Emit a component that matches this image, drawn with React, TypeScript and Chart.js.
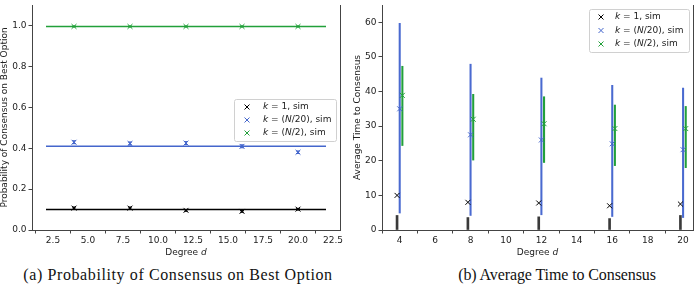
import React, { useEffect, useRef } from "react";
import { Chart, registerables } from "chart.js";

Chart.register(...registerables);

// ---------- shared ----------
const degrees = [4, 8, 12, 16, 20];
const seriesNames = ["k1", "kN20", "kN2"];
const seriesColors = ["#000000", "#4466cc", "#22a03a"];
const legendLabels: [string, boolean][][] = [
  [["k", true], [" = 1, sim", false]],
  [["k", true], [" = (", false], ["N", true], ["/20), sim", false]],
  [["k", true], [" = (", false], ["N", true], ["/2), sim", false]],
];

// ---------- panel (a): probability of consensus on best option ----------
const probRefSpan = [2, 22];
const probRefK1 = 0.1;
const probRefKN20 = 0.41;
const probRefKN2 = 0.995;
const probK1 = [0.107, 0.107, 0.096, 0.091, 0.102];
const probKN20 = [0.429, 0.423, 0.425, 0.409, 0.38];
const probKN2 = [0.995, 0.995, 0.995, 0.995, 0.995];
const probErrK1 = [0.005, 0.005, 0.004, 0.004, 0.004];
const probErrKN20 = [0.007, 0.007, 0.007, 0.007, 0.006];
const probErrKN2 = [0.002, 0.002, 0.002, 0.002, 0.002];
const probXTicks = [2.5, 5, 7.5, 10, 12.5, 15, 17.5, 20, 22.5];
const probYTicks = [0, 0.2, 0.4, 0.6, 0.8, 1.0];

// ---------- panel (b): average time to consensus ----------
const timeOffsets = [-0.15, 0, 0.15];
const timeK1 = [10, 8, 7.8, 7.0, 7.5];
const timeK1Low = [0, 0, 0, 0, 0];
const timeK1High = [4.2, 3.6, 3.8, 3.3, 4.2];
const timeKN20 = [35, 27.5, 26, 24.9, 23.2];
const timeKN20Low = [4.9, 4.2, 4.4, 3.9, 3.6];
const timeKN20High = [59.7, 47.9, 43.9, 41.8, 41.0];
const timeKN2 = [38.9, 32, 30.7, 29.3, 29.3];
const timeKN2Low = [24.4, 20.2, 19.5, 18.6, 18.0];
const timeKN2High = [47.3, 39.2, 38.5, 36.1, 35.7];
const timeXTicks = [4, 6, 8, 10, 12, 14, 16, 18, 20];
const timeYTicks = [0, 10, 20, 30, 40, 50, 60];

const SANS = '"DejaVu Sans", sans-serif';
const AXIS_COLOR = "#444";
const TEXT_COLOR = "#222";

function drawRich(
  ctx: CanvasRenderingContext2D,
  segs: [string, boolean][],
  x: number,
  y: number,
  size: number
) {
  let cx = x;
  ctx.textBaseline = "middle";
  ctx.textAlign = "left";
  for (const [t, it] of segs) {
    ctx.font = `${it ? "italic " : ""}${size}px ${SANS}`;
    ctx.fillText(t, cx, y);
    cx += ctx.measureText(t).width;
  }
}

function richWidth(ctx: CanvasRenderingContext2D, segs: [string, boolean][], size: number) {
  let w = 0;
  for (const [t, it] of segs) {
    ctx.font = `${it ? "italic " : ""}${size}px ${SANS}`;
    w += ctx.measureText(t).width;
  }
  return w;
}

type Decor = {
  yTitle: string;
  yTitleOffset: number;
  legend: { right: number; top: number; width: number; height: number; rowY: number[]; markerX: number; textX: number };
};

function decorPlugin(d: Decor) {
  return {
    id: "decor",
    afterDraw(chart: any) {
      const { ctx, chartArea } = chart;
      const { left, right, top, bottom } = chartArea;
      ctx.save();
      // right spine
      ctx.strokeStyle = AXIS_COLOR;
      ctx.lineWidth = 1;
      ctx.beginPath();
      ctx.moveTo(Math.round(right) + 0.5, top);
      ctx.lineTo(Math.round(right) + 0.5, bottom);
      ctx.stroke();

      // axis titles
      ctx.fillStyle = TEXT_COLOR;
      const xt: [string, boolean][] = [["Degree ", false], ["d", true]];
      const w = richWidth(ctx, xt, 9);
      drawRich(ctx, xt, (left + right) / 2 - w / 2, bottom + 23, 9);
      ctx.save();
      ctx.font = `9px ${SANS}`;
      ctx.translate(left - d.yTitleOffset, (top + bottom) / 2);
      ctx.rotate(-Math.PI / 2);
      ctx.textAlign = "center";
      ctx.textBaseline = "middle";
      ctx.fillText(d.yTitle, 0, 0);
      ctx.restore();

      // legend
      const L = d.legend;
      const bx = right - L.right - L.width;
      const by = top + L.top;
      ctx.fillStyle = "rgba(255,255,255,0.85)";
      ctx.strokeStyle = "#d0d0d0";
      ctx.lineWidth = 1;
      ctx.beginPath();
      (ctx as any).roundRect(Math.round(bx) + 0.5, Math.round(by) + 0.5, L.width, L.height, 2);
      ctx.fill();
      ctx.stroke();
      legendLabels.forEach((segs, i) => {
        const yy = by + L.rowY[i];
        const mx = bx + L.markerX;
        ctx.strokeStyle = seriesColors[i];
        ctx.lineWidth = 1;
        ctx.beginPath();
        ctx.moveTo(mx - 2.5, yy - 2.5);
        ctx.lineTo(mx + 2.5, yy + 2.5);
        ctx.moveTo(mx - 2.5, yy + 2.5);
        ctx.lineTo(mx + 2.5, yy - 2.5);
        ctx.stroke();
        ctx.fillStyle = TEXT_COLOR;
        drawRich(ctx, segs, bx + L.textX, yy, 9);
      });
      ctx.restore();
    },
  };
}

function axisCommon(ticks: number[], decimals: number, size: number, isY: boolean, min: number, max: number) {
  return {
    type: "linear",
    min,
    max,
    offset: false,
    afterBuildTicks: (s: any) => {
      s.ticks = ticks.map((v) => ({ value: v }));
    },
    afterFit: (s: any) => {
      if (isY) s.width = size;
      else s.height = size;
      s.paddingLeft = 0;
      s.paddingRight = 0;
      s.paddingTop = 0;
      s.paddingBottom = 0;
    },
    grid: {
      display: true,
      drawOnChartArea: false,
      drawTicks: true,
      tickLength: 3.5,
      color: AXIS_COLOR,
      lineWidth: 1,
    },
    border: { display: true, color: AXIS_COLOR, width: 1 },
    ticks: {
      autoSkip: false,
      maxRotation: 0,
      padding: 2,
      color: TEXT_COLOR,
      font: { family: SANS, size: 9 },
      callback: (v: any) => Number(v).toFixed(decimals),
    },
    title: { display: false },
  };
}

function markerSet(label: string, xs: number[], ys: number[], color: string) {
  return {
    type: "scatter",
    label,
    data: xs.map((x, i) => ({ x, y: ys[i] })),
    pointStyle: "crossRot",
    pointRadius: 3.5,
    pointBorderWidth: 1,
    borderColor: color,
    backgroundColor: color,
    order: 0,
  };
}

function barSet(label: string, xs: number[], lo: number[], hi: number[], color: string, thick: number) {
  return {
    type: "bar",
    label,
    data: xs.map((x, i) => ({ x, y: [lo[i], hi[i]] })),
    backgroundColor: color,
    borderWidth: 0,
    barThickness: thick,
    grouped: false,
    order: 1,
  };
}

function capSet(label: string, xs: number[], lo: number[], hi: number[], color: string) {
  const pts: { x: number; y: number }[] = [];
  xs.forEach((x, i) => {
    pts.push({ x, y: lo[i] });
    pts.push({ x, y: hi[i] });
  });
  return {
    type: "scatter",
    label,
    data: pts,
    pointStyle: "line",
    pointRadius: 2,
    pointBorderWidth: 1,
    borderColor: color,
    backgroundColor: color,
    order: 0,
  };
}

function refLine(label: string, y: number, color: string) {
  return {
    type: "line",
    label,
    data: probRefSpan.map((x) => ({ x, y })),
    borderColor: color,
    borderWidth: 1.5,
    pointRadius: 0,
    showLine: true,
    order: 2,
  };
}

function probConfig(): any {
  const means = [probK1, probKN20, probKN2];
  const errs = [probErrK1, probErrKN20, probErrKN2];
  const refs = [probRefK1, probRefKN20, probRefKN2];
  const datasets: any[] = [];
  means.forEach((m, i) => {
    const lo = m.map((v, j) => v - errs[i][j]);
    const hi = m.map((v, j) => v + errs[i][j]);
    datasets.push(markerSet(seriesNames[i], degrees, m, seriesColors[i]));
    datasets.push(capSet(seriesNames[i] + "-cap", degrees, lo, hi, seriesColors[i]));
    datasets.push(barSet(seriesNames[i] + "-err", degrees, lo, hi, seriesColors[i], 1));
    datasets.push(refLine(seriesNames[i] + "-ref", refs[i], seriesColors[i]));
  });
  return {
    type: "scatter",
    data: { datasets },
    options: {
      animation: false,
      responsive: false,
      devicePixelRatio: 1,
      events: [],
      layout: { padding: { left: 0, right: 9, top: 0, bottom: 0 } },
      scales: {
        x: axisCommon(probXTicks, 1, 32, false, 1, 23),
        y: axisCommon(probYTicks, 1, 32, true, 0, 1.1),
      },
      plugins: { legend: { display: false }, tooltip: { enabled: false } },
    },
    plugins: [
      decorPlugin({
        yTitle: "Probability of Consensus on Best Option",
        yTitleOffset: 27,
        legend: { right: 4, top: 94, width: 102, height: 42, rowY: [8, 21, 34], markerX: 13, textX: 29 },
      }),
    ],
  };
}

function timeConfig(): any {
  const means = [timeK1, timeKN20, timeKN2];
  const lows = [timeK1Low, timeKN20Low, timeKN2Low];
  const highs = [timeK1High, timeKN20High, timeKN2High];
  const barColors = ["#3a3a3a", "#4a6ad0", "#22a03a"];
  const barThick = [2, 1.4, 1.4];
  const datasets: any[] = [];
  means.forEach((m, i) => {
    const xs = degrees.map((d) => d + timeOffsets[i]);
    datasets.push(markerSet(seriesNames[i], xs, m, seriesColors[i]));
    datasets.push(barSet(seriesNames[i] + "-err", xs, lows[i], highs[i], barColors[i], barThick[i]));
  });
  return {
    type: "scatter",
    data: { datasets },
    options: {
      animation: false,
      responsive: false,
      devicePixelRatio: 1,
      events: [],
      layout: { padding: { left: 0, right: 2, top: 0, bottom: 0 } },
      scales: {
        x: axisCommon(timeXTicks, 0, 32, false, 3, 20.56),
        y: axisCommon(timeYTicks, 0, 33, true, 0, 65),
      },
      plugins: { legend: { display: false }, tooltip: { enabled: false } },
    },
    plugins: [
      decorPlugin({
        yTitle: "Average Time to Consensus",
        yTitleOffset: 24,
        legend: { right: 4, top: 4, width: 100, height: 43, rowY: [8, 21.5, 35], markerX: 12, textX: 26 },
      }),
    ],
  };
}

function Panel({ config, left }: { config: () => any; left: number }) {
  const ref = useRef<HTMLCanvasElement | null>(null);
  useEffect(() => {
    if (!ref.current) return;
    const chart = new Chart(ref.current, config());
    return () => chart.destroy();
  }, [config]);
  return (
    <canvas
      ref={ref}
      width={349}
      height={262}
      style={{ position: "absolute", left, top: 0, width: 349, height: 262 }}
    />
  );
}

const captionStyle: React.CSSProperties = {
  position: "absolute",
  top: 265,
  width: 400,
  textAlign: "center",
  fontFamily: '"Liberation Serif", serif',
  fontSize: 16,
  lineHeight: "20px",
  color: "#111",
  whiteSpace: "nowrap",
};

export default function App() {
  return (
    <div style={{ position: "absolute", left: 0, top: 0, width: 698, height: 286, background: "#fff", overflow: "hidden" }}>
      <Panel config={probConfig} left={0} />
      <Panel config={timeConfig} left={349} />
      <div style={{ ...captionStyle, left: 178 - 200, letterSpacing: "0.6px" }}>
        (a) Probability of Consensus on Best Option
      </div>
      <div style={{ ...captionStyle, left: 557 - 200, letterSpacing: "-0.1px" }}>
        (b) Average Time to Consensus
      </div>
    </div>
  );
}
